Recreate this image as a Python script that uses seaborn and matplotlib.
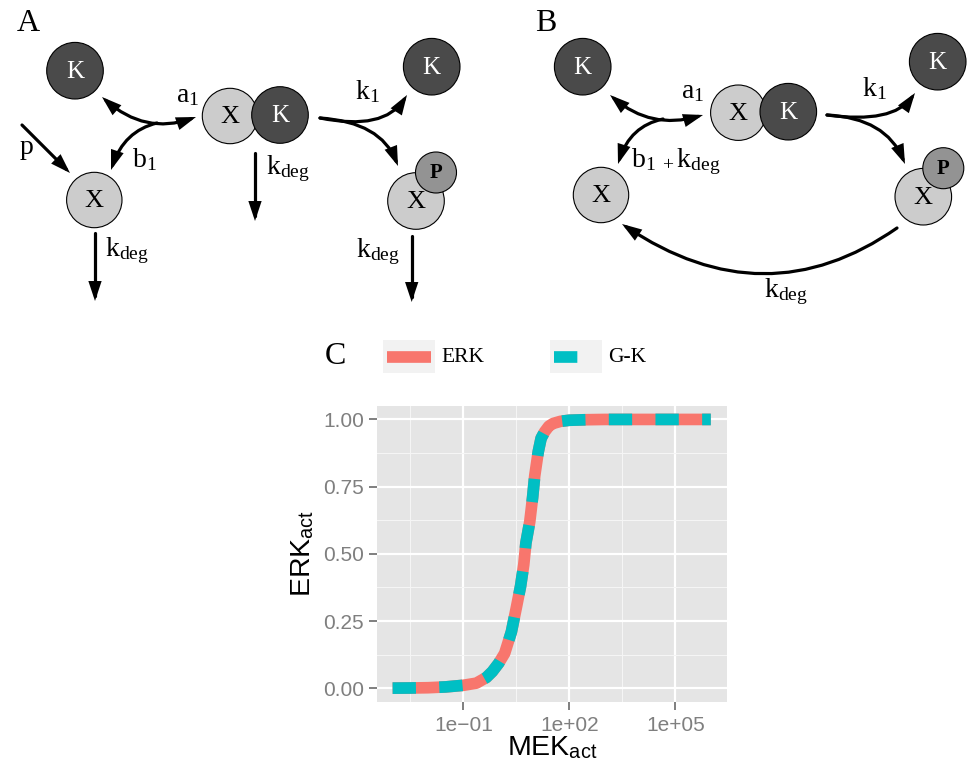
import matplotlib
matplotlib.use("Agg")
import matplotlib.pyplot as plt
import seaborn as sns
import numpy as np
import pandas as pd
from matplotlib.patches import Circle, FancyArrowPatch, Rectangle
from matplotlib.path import Path
from matplotlib.lines import Line2D
from matplotlib.ticker import FixedLocator, NullFormatter

# ---------------- data ----------------
mek_act = [0.001, 0.00316, 0.01, 0.0316, 0.1, 0.234, 0.447, 0.661, 1.0, 1.479,
           2.291, 3.162, 4.169, 5.129, 5.888, 7.586, 9.120, 10.47, 13.18, 15.85,
           19.95, 26.30, 34.67, 56.23, 100.0, 316.2, 1000.0, 1e4, 1e5, 1e6]
erk_act_erk = [0.0005, 0.001, 0.002, 0.005, 0.011, 0.019, 0.040, 0.062, 0.093, 0.13,
               0.21, 0.30, 0.38, 0.46, 0.54, 0.62, 0.71, 0.79, 0.88, 0.93,
               0.954, 0.975, 0.985, 0.993, 0.997, 0.999, 1.0, 1.0, 1.0, 1.0]
erk_act_gk = [0.0005, 0.001, 0.002, 0.005, 0.011, 0.019, 0.040, 0.062, 0.093, 0.13,
              0.21, 0.30, 0.38, 0.46, 0.54, 0.62, 0.71, 0.79, 0.88, 0.93,
              0.954, 0.975, 0.985, 0.993, 0.997, 0.999, 1.0, 1.0, 1.0, 1.0]
series_names = ["ERK", "G-K"]
series_colors = ["#F8766D", "#00BFC4"]
x_tick_values = [1e-1, 1e2, 1e5]
x_tick_labels = ["1e\u221201", "1e+02", "1e+05"]
y_tick_values = [0.0, 0.25, 0.5, 0.75, 1.0]
y_tick_labels = ["0.00", "0.25", "0.50", "0.75", "1.00"]

df_erk = pd.DataFrame({"MEK": mek_act, "ERK": erk_act_erk})
df_gk = pd.DataFrame({"MEK": mek_act, "ERK": erk_act_gk})

# ---------------- style ----------------
plt.rcParams["font.family"] = ["Liberation Sans", "DejaVu Sans"]
plt.rcParams["mathtext.fontset"] = "custom"
plt.rcParams["mathtext.rm"] = "Liberation Serif"
plt.rcParams["mathtext.it"] = "Liberation Serif:italic"
plt.rcParams["mathtext.bf"] = "Liberation Serif:bold"
plt.rcParams["mathtext.sf"] = "Liberation Sans"

W, H = 967, 765
fig = plt.figure(figsize=(W / 100, H / 100), dpi=100)
fig.patch.set_facecolor("white")

# ---------------- panel C chart ----------------
pl, pr, pt, pb = 376.7, 726.7, 406.0, 701.7
ax = fig.add_axes([pl / W, (H - pb) / H, (pr - pl) / W, (pb - pt) / H])
ax.set_facecolor("#E5E5E5")
ax.set_xscale("log")

LW = 8.4
sns.lineplot(data=df_erk, x="MEK", y="ERK", color=series_colors[0], lw=LW,
             ax=ax, estimator=None, sort=True)
sns.lineplot(data=df_gk, x="MEK", y="ERK", color=series_colors[1], lw=LW,
             ax=ax, estimator=None, sort=True)
l1, l2 = ax.lines[0], ax.lines[1]
l1.set_solid_capstyle("butt")
l1.set_solid_joinstyle("round")
l2.set_dashes((2, 2))
l2.set_dash_capstyle("butt")
l2.set_dash_joinstyle("round")

ax.set_xlim(10 ** -3.45, 10 ** 6.45)
ax.set_ylim(-0.05, 1.05)
ax.xaxis.set_major_locator(FixedLocator(x_tick_values))
ax.set_xticklabels(x_tick_labels)
ax.xaxis.set_minor_locator(FixedLocator([10 ** -2.5, 10 ** 0.5, 10 ** 3.5]))
ax.xaxis.set_minor_formatter(NullFormatter())
ax.yaxis.set_major_locator(FixedLocator(y_tick_values))
ax.set_yticklabels(y_tick_labels)
ax.yaxis.set_minor_locator(FixedLocator([0.125, 0.375, 0.625, 0.875]))
ax.grid(which="major", color="white", lw=1.6)
ax.grid(which="minor", color="#F5F5F5", lw=0.8)
ax.set_axisbelow(True)
for s in ax.spines.values():
    s.set_visible(False)
ax.tick_params(which="major", length=6, width=1.4, color="#7F7F7F",
               labelcolor="#7F7F7F", labelsize=15)
ax.tick_params(axis="x", which="major", pad=4)
ax.tick_params(axis="y", which="major", pad=3)
ax.tick_params(which="minor", length=0)
ax.set_xlabel(r"$\mathsf{MEK}_{\mathsf{act}}$", fontsize=20.5, labelpad=0)
ax.set_ylabel(r"$\mathsf{ERK}_{\mathsf{act}}$", fontsize=20.5, labelpad=5)

# ---------------- diagram overlay (pixel coordinates) ----------------
dax = fig.add_axes([0, 0, 1, 1], zorder=5)
dax.set_xlim(0, W)
dax.set_ylim(H, 0)
dax.axis("off")
dax.patch.set_visible(False)

XFILL, KFILL, PFILL = "#CCCCCC", "#4A4A4A", "#939393"
SERIF = ["Liberation Serif", "DejaVu Serif"]


def circ(x, y, r, fc):
    dax.add_patch(Circle((x, y), r, fc=fc, ec="black", lw=0.8, zorder=3))


def label(x, y, s, size=18, color="black", weight="normal", ha="center"):
    dax.text(x, y, s, fontsize=size, color=color, family=SERIF, ha=ha,
             va="center", weight=weight, zorder=4)


def arrow(pts, style="-|>", curve=True):
    if curve:
        codes = [Path.MOVETO, Path.CURVE3, Path.CURVE3]
    else:
        codes = [Path.MOVETO, Path.LINETO]
    p = FancyArrowPatch(path=Path(pts, codes),
                        arrowstyle=style + ",head_length=0.6,head_width=0.2",
                        mutation_scale=16, lw=2.3, color="black", zorder=2,
                        joinstyle="miter")
    dax.add_patch(p)


def K(x, y):
    circ(x, y, 28.3, KFILL)
    label(x, y + 1, "K", 18, "white")


def X(x, y, r=27.7):
    circ(x, y, r, XFILL)
    label(x, y + 1, "X", 19)


def XK(x, y):
    X(x, y)
    K(x + 50, y - 1)


def XP(x, y):
    X(x, y, 28.3)
    circ(x + 20, y - 28.5, 20.5, PFILL)
    label(x + 20, y - 28, "P", 15, weight="bold")


KDEG = r"$\mathrm{k}_{\mathrm{deg}}$"

# Panel A
label(28, 23, "A", 23)
K(75, 70.7)
XK(230, 116)
X(94.3, 200)
XP(416, 201)
K(431.7, 66.7)
arrow([(22, 125), (70, 173)], curve=False)
arrow([(102, 97), (145, 135), (196, 117)], style="<|-|>")
arrow([(157, 123), (124, 131), (111, 170)])
arrow([(320, 118), (384, 131), (407, 95)])
arrow([(320, 118), (381, 122), (398, 166)])
arrow([(255, 153), (255, 221)], curve=False)
arrow([(95, 233), (95, 301)], curve=False)
arrow([(411.7, 236), (411.7, 302)], curve=False)
label(27, 147, "p", 20)
label(188, 96, r"$\mathrm{a}_{1}$", 20)
label(144, 160, r"$\mathrm{b}_{1}$", 20)
label(367, 92, r"$\mathrm{k}_{1}$", 20)
label(288, 169, KDEG, 20)
label(127, 251, KDEG, 20)
label(378, 252, KDEG, 20)

# Panel B
label(546, 23, "B", 23)
K(582.7, 66.7)
XK(738.3, 112.7)
X(601, 195)
XP(923.3, 196.7)
K(937.7, 61.7)
arrow([(610, 95), (651, 130), (703, 115)], style="<|-|>")
arrow([(663, 119), (630, 126), (618, 164)])
arrow([(827, 115), (893, 124), (915, 93)])
arrow([(827, 115), (886, 118), (905, 164)])
arrow([(897, 228), (765, 320), (622, 224)])
label(693, 92, r"$\mathrm{a}_{1}$", 20)
label(676, 162, r"$\mathrm{b}_{1\ +}\mathrm{k}_{\mathrm{deg}}$", 20)
label(874, 89, r"$\mathrm{k}_{1}$", 20)
label(786, 292, KDEG, 20)

# Panel C label and legend
label(335, 356, "C", 23)
dax.add_patch(Rectangle((382.7, 340), 52.3, 33.3, fc="#F2F2F2", ec="none"))
dax.add_patch(Rectangle((550, 340), 51.7, 33.3, fc="#F2F2F2", ec="none"))
dax.add_line(Line2D([386.7, 430.7], [356.7, 356.7], color=series_colors[0],
                    lw=LW, solid_capstyle="butt"))
dax.add_line(Line2D([554, 598], [356.7, 356.7], color=series_colors[1],
                    lw=LW, dashes=(2, 2), dash_capstyle="butt"))
label(441, 357, series_names[0], 15.5, ha="left")
label(608, 357, series_names[1], 15.5, ha="left")

fig.savefig("out.png", dpi=100)
